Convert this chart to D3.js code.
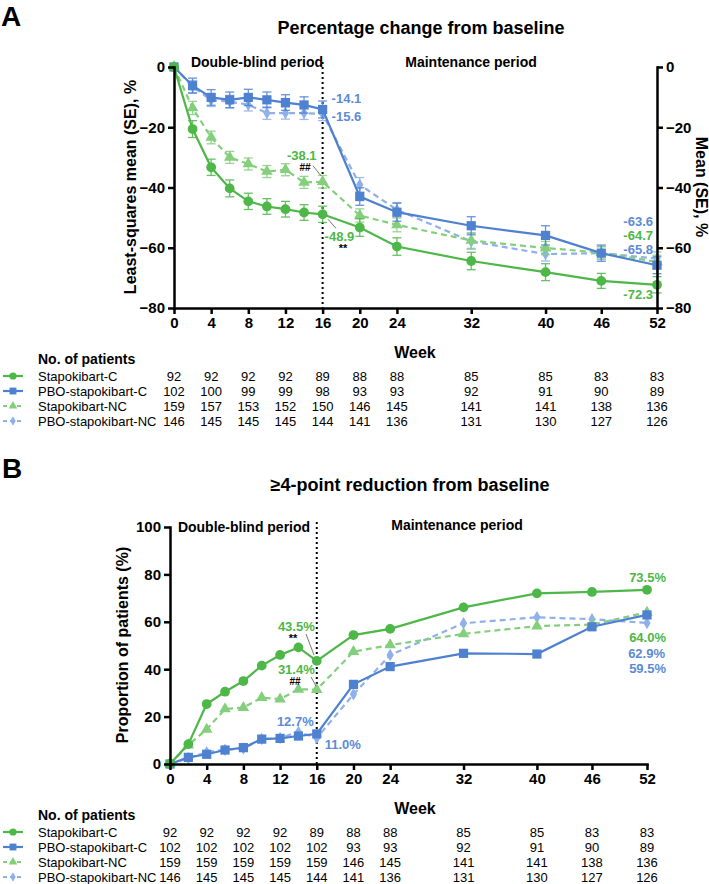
<!DOCTYPE html>
<html lang="en">
<head>
<meta charset="utf-8">
<title>Stapokibart percentage change and 4-point reduction</title>
<script src="https://d3js.org/d3.v7.min.js"></script>
<style>
  body { margin: 0; background: #fff; }
  svg { font-family: "Liberation Sans", Arial, sans-serif; }
  .axis path, .axis line { stroke: #000; stroke-width: 2.5; }
  .axis text { font-size: 15px; font-weight: bold; fill: #000; }
  .tbl { font-family: "Liberation Sans", Arial, sans-serif; font-size: 13px; }
</style>
</head>
<body>
<svg id="chart" width="709" height="884"></svg>
<script>
// ---- data ----
const seriesNames = ["Stapokibart-C", "PBO-stapokibart-C", "Stapokibart-NC", "PBO-stapokibart-NC"];
const weeks = [0, 2, 4, 6, 8, 10, 12, 14, 16, 20, 24, 32, 40, 46, 52];
const tickWeeks = [0, 4, 8, 12, 16, 20, 24, 32, 40, 46, 52];

// panel A: LS mean percentage change (SE)
const pctStapoC   = [0, -20.6, -33.3, -40.3, -44.6, -46.3, -47.2, -48.3, -48.9, -53.3, -59.6, -64.4, -68.1, -71.0, -72.3];
const pctPboC     = [0, -6.2, -10.1, -10.9, -10.1, -10.9, -11.8, -12.6, -14.1, -43.0, -48.2, -52.7, -55.9, -61.8, -65.8];
const pctStapoNC  = [0, -13.6, -23.4, -30.0, -32.2, -34.7, -34.1, -38.3, -38.1, -49.3, -52.4, -57.6, -60.1, -61.6, -64.7];
const pctPboNC    = [0, -6.5, -11.0, -11.5, -12.5, -15.3, -15.3, -15.3, -15.6, -39.1, -47.4, -57.9, -62.1, -61.8, -63.6];
const seStapoC    = [0, 2.8, 2.7, 2.8, 2.7, 2.6, 2.6, 2.6, 2.7, 2.9, 2.9, 2.9, 2.8, 2.5, 2.7];
const sePboC      = [0, 2.5, 2.6, 2.6, 2.7, 2.6, 2.6, 2.7, 2.8, 2.9, 3.0, 3.0, 3.2, 2.7, 2.8];
const seStapoNC   = [0, 2.2, 2.1, 2.0, 2.0, 2.0, 2.0, 2.0, 2.1, 2.2, 2.3, 2.6, 2.2, 2.1, 2.2];
const sePboNC     = [0, 2.0, 2.1, 2.1, 2.1, 2.1, 2.0, 2.1, 2.2, 2.4, 2.4, 2.6, 2.3, 2.1, 2.2];

// panel B: proportion with >=4-point reduction (%)
const propStapoC  = [0, 8.4, 25.3, 30.5, 35.0, 41.5, 46.0, 49.2, 43.5, 54.4, 57.0, 66.1, 72.0, 72.6, 73.5];
const propPboC    = [0, 2.8, 4.1, 5.9, 6.9, 10.5, 10.8, 11.8, 12.7, 33.6, 41.1, 46.7, 46.4, 57.9, 62.9];
const propStapoNC = [0, 8.0, 14.6, 23.2, 23.8, 28.0, 27.4, 31.5, 31.4, 47.4, 50.2, 54.9, 58.2, 58.8, 64.0];
const propPboNC   = [0, 2.5, 5.0, 6.0, 6.5, 10.5, 11.0, 13.5, 11.0, 29.4, 46.0, 59.4, 61.9, 61.1, 59.5];

// number of patients at tick weeks
const nA = [
  [92, 92, 92, 92, 89, 88, 88, 85, 85, 83, 83],
  [102, 100, 99, 99, 98, 93, 93, 92, 91, 90, 89],
  [159, 157, 153, 152, 150, 146, 145, 141, 141, 138, 136],
  [146, 145, 145, 145, 144, 141, 136, 131, 130, 127, 126]
];
const nB = [
  [92, 92, 92, 92, 89, 88, 88, 85, 85, 83, 83],
  [102, 102, 102, 102, 102, 93, 93, 92, 91, 90, 89],
  [159, 159, 159, 159, 159, 146, 145, 141, 141, 138, 136],
  [146, 145, 145, 145, 144, 141, 136, 131, 130, 127, 126]
];

// ---- styles ----
const green = "#4db748", lgreen = "#84cf7c", blue = "#4f81d1", lblue = "#8fb0e8";
const labGreen = "#4db748", labBlue = "#5b8bd6";
const styles = [
  { color: green,  dash: null,  sym: d3.symbolCircle,   size: 75 },
  { color: blue,   dash: null,  sym: d3.symbolSquare,   size: 85 },
  { color: lgreen, dash: "6,4", sym: d3.symbolTriangle, size: 58 },
  { color: lblue,  dash: "6,4", sym: d3.symbolDiamond,  size: 45 }
];
const drawOrder = [3, 2, 1, 0];

const svg = d3.select("#chart");

function txt(x, y, s, opt) {
  const o = Object.assign({ size: 13, weight: "bold", fill: "#000", anchor: "start" }, opt || {});
  return svg.append("text").attr("x", x).attr("y", y)
    .attr("dominant-baseline", "central")
    .attr("text-anchor", o.anchor)
    .attr("font-size", o.size).attr("font-weight", o.weight)
    .attr("fill", o.fill).text(s);
}

function panel(cfg) {
  const { x, y, vals, se } = cfg;
  const g = svg.append("g");

  // dotted week-16 separator
  g.append("line")
    .attr("x1", x(16)).attr("x2", x(16))
    .attr("y1", y.range()[1] - 5).attr("y2", y.range()[0])
    .attr("stroke", "#000").attr("stroke-width", 2).attr("stroke-dasharray", "2,3");

  drawOrder.forEach(i => {
    const st = styles[i];
    const pts = weeks.map((w, k) => ({ w, v: vals[i][k], e: se ? se[i][k] : 0 }));
    if (se) {
      const eb = g.append("g").attr("stroke", st.color).attr("stroke-width", 1.3).attr("opacity", 0.85);
      pts.filter(p => p.e > 0).forEach(p => {
        eb.append("line").attr("x1", x(p.w)).attr("x2", x(p.w)).attr("y1", y(p.v - p.e)).attr("y2", y(p.v + p.e));
        [p.v - p.e, p.v + p.e].forEach(c => eb.append("line")
          .attr("x1", x(p.w) - 4.5).attr("x2", x(p.w) + 4.5).attr("y1", y(c)).attr("y2", y(c)));
      });
    }
    g.append("path").datum(pts)
      .attr("fill", "none").attr("stroke", st.color).attr("stroke-width", 2.2)
      .attr("stroke-dasharray", st.dash)
      .attr("d", d3.line().x(p => x(p.w)).y(p => y(p.v)));
    g.selectAll(null).data(pts).enter().append("path")
      .attr("transform", p => `translate(${x(p.w)},${y(p.v)})`)
      .attr("d", d3.symbol().type(st.sym).size(st.size))
      .attr("fill", st.color);
  });

  // axes
  g.append("g").attr("class", "axis").attr("transform", `translate(0,${y.range()[0]})`)
    .call(d3.axisBottom(x).tickValues(tickWeeks).tickSize(6).tickSizeOuter(0));
  g.append("g").attr("class", "axis").attr("transform", `translate(${x(0)},0)`)
    .call(d3.axisLeft(y).tickValues(cfg.yTicks).tickSize(6).tickSizeOuter(0));
  if (cfg.right) {
    g.append("g").attr("class", "axis").attr("transform", `translate(${x(52)},0)`)
      .call(d3.axisRight(y).tickValues(cfg.yTicks).tickSize(6).tickSizeOuter(0));
  }
  g.selectAll(".axis .domain").attr("stroke-linecap", "square");

  // "Week" + table
  const base = y.range()[0];
  txt(415, base + 44, "Week", { size: 16, anchor: "middle" });
  txt(38, base + 51, "No. of patients", { size: 14 });
  seriesNames.forEach((name, i) => {
    const ry = base + 68 + i * 15;
    const st = styles[i];
    svg.append("line").attr("x1", 3).attr("x2", 23).attr("y1", ry).attr("y2", ry)
      .attr("stroke", st.color).attr("stroke-width", 2.2).attr("stroke-dasharray", st.dash ? "4,3" : null);
    svg.append("path").attr("transform", `translate(13,${ry})`)
      .attr("d", d3.symbol().type(st.sym).size(st.size * 0.55)).attr("fill", st.color);
    svg.append("text").attr("class", "tbl").attr("x", 38).attr("y", ry)
      .attr("dominant-baseline", "central").text(name);
    svg.selectAll(null).data(cfg.n[i]).enter().append("text").attr("class", "tbl")
      .attr("x", (d, k) => x(tickWeeks[k])).attr("y", ry)
      .attr("text-anchor", "middle").attr("dominant-baseline", "central").text(d => d);
  });
}

// ---- panel A ----
const xA = d3.scaleLinear().domain([0, 52]).range([174, 657]);
const yA = d3.scaleLinear().domain([-80, 0]).range([308, 67]);
panel({ x: xA, y: yA, vals: [pctStapoC, pctPboC, pctStapoNC, pctPboNC],
        se: [seStapoC, sePboC, seStapoNC, sePboNC], yTicks: [0, -20, -40, -60, -80], right: true, n: nA });

svg.append("text").attr("x", 1).attr("y", 26).attr("font-size", 28).attr("font-weight", "bold").text("A");
txt(421, 28, "Percentage change from baseline", { size: 18, anchor: "middle" });
txt(257, 62, "Double-blind period", { size: 14, anchor: "middle" });
txt(471, 62, "Maintenance period", { size: 14, anchor: "middle" });
svg.append("text").attr("transform", `translate(130,187) rotate(-90)`)
  .attr("text-anchor", "middle").attr("dominant-baseline", "central")
  .attr("font-size", 16).attr("font-weight", "bold").text("Least-squares mean (SE), %");
svg.append("text").attr("transform", `translate(701,187) rotate(90)`)
  .attr("text-anchor", "middle").attr("dominant-baseline", "central")
  .attr("font-size", 16).attr("font-weight", "bold").text("Mean (SE), %");

txt(xA(16) + 9, yA(pctPboC[8]) - 11, "-14.1", { fill: labBlue });
txt(xA(16) + 9, yA(pctPboNC[8]) + 3, "-15.6", { fill: labBlue });
txt(xA(16) - 6, yA(pctStapoNC[8]) - 26, "-38.1", { fill: labGreen, anchor: "end" });
txt(305, yA(pctStapoNC[8]) - 14, "##", { size: 10, anchor: "middle" });
svg.append("line").attr("x1", 313).attr("y1", yA(pctStapoNC[8]) - 16).attr("x2", 321).attr("y2", yA(pctStapoNC[8]) - 6)
  .attr("stroke", "#555").attr("stroke-width", 0.8);
txt(xA(16) + 2, yA(pctStapoC[8]) + 22, "-48.9", { fill: labGreen });
txt(343, yA(pctStapoC[8]) + 34, "**", { size: 11, anchor: "middle" });
svg.append("line").attr("x1", 328).attr("y1", yA(pctStapoC[8]) + 5).attr("x2", 336).attr("y2", yA(pctStapoC[8]) + 14)
  .attr("stroke", "#555").attr("stroke-width", 0.8);
txt(xA(52) - 4, 221, "-63.6", { fill: labBlue, anchor: "end" });
txt(xA(52) - 4, 235, "-64.7", { fill: labGreen, anchor: "end" });
txt(xA(52) - 4, 249, "-65.8", { fill: labBlue, anchor: "end" });
txt(xA(52) - 4, 294, "-72.3", { fill: labGreen, anchor: "end" });

// ---- panel B ----
const xB = d3.scaleLinear().domain([0, 52]).range([170, 647]);
const yB = d3.scaleLinear().domain([0, 100]).range([764, 527]);
panel({ x: xB, y: yB, vals: [propStapoC, propPboC, propStapoNC, propPboNC],
        se: null, yTicks: [0, 20, 40, 60, 80, 100], right: false, n: nB });

svg.append("text").attr("x", 2).attr("y", 478).attr("font-size", 28).attr("font-weight", "bold").text("B");
txt(410, 485, "\u22654-point reduction from baseline", { size: 18, anchor: "middle" });
txt(244, 527, "Double-blind period", { size: 14, anchor: "middle" });
txt(457, 525, "Maintenance period", { size: 14, anchor: "middle" });
svg.append("text").attr("transform", `translate(122,645) rotate(-90)`)
  .attr("text-anchor", "middle").attr("dominant-baseline", "central")
  .attr("font-size", 16).attr("font-weight", "bold").text("Proportion of patients (%)");

txt(xB(16) - 2, 626, "43.5%", { fill: labGreen, anchor: "end" });
txt(293, 638, "**", { size: 11, anchor: "middle" });
svg.append("line").attr("x1", 306).attr("y1", 634).attr("x2", 314).attr("y2", 655).attr("stroke", "#555").attr("stroke-width", 0.8);
txt(xB(16) - 2, 669, "31.4%", { fill: labGreen, anchor: "end" });
txt(295, 681, "##", { size: 10, anchor: "middle" });
svg.append("line").attr("x1", 311).attr("y1", 677).attr("x2", 316).attr("y2", 686).attr("stroke", "#555").attr("stroke-width", 0.8);
txt(xB(16) - 3, 721, "12.7%", { fill: labBlue, anchor: "end" });
txt(xB(16) + 8, 744, "11.0%", { fill: labBlue });
txt(xB(52) + 19, 577, "73.5%", { fill: labGreen, anchor: "end" });
txt(xB(52) + 19, 637, "64.0%", { fill: labGreen, anchor: "end" });
txt(xB(52) + 18, 653, "62.9%", { fill: labBlue, anchor: "end" });
txt(xB(52) + 19, 668, "59.5%", { fill: labBlue, anchor: "end" });
</script>
</body>
</html>
